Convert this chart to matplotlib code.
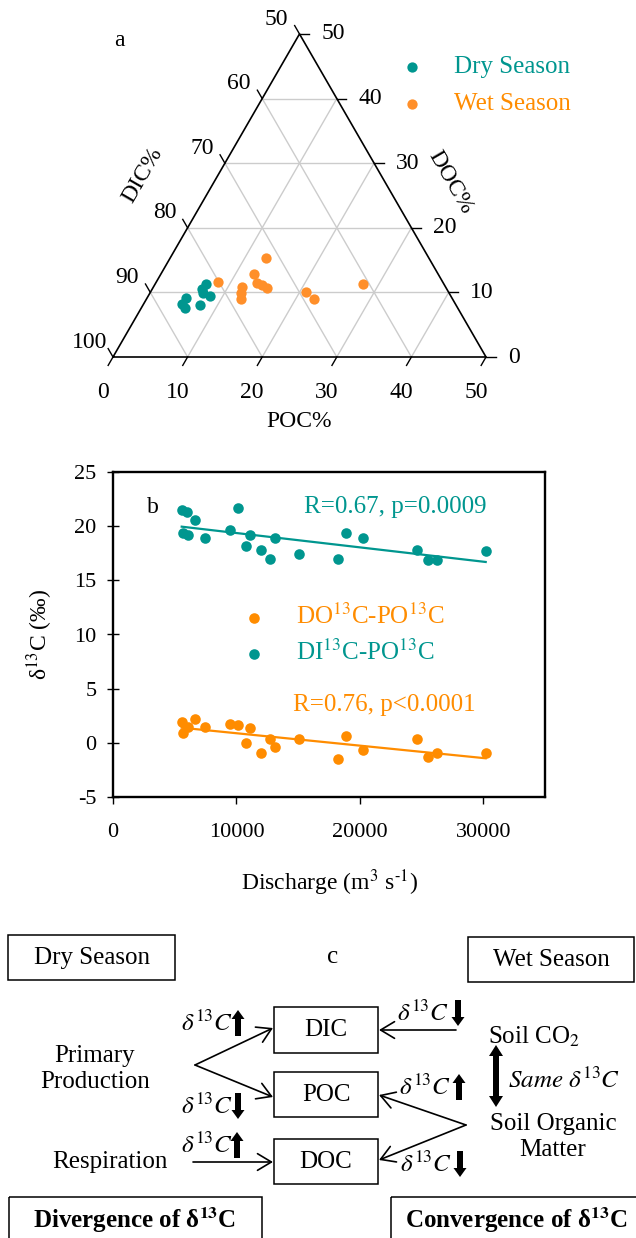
import numpy as np
import matplotlib
matplotlib.use("Agg")
import matplotlib.pyplot as plt
from matplotlib.patches import Rectangle

plt.rcParams['font.family'] = ['Liberation Serif', 'DejaVu Serif']
plt.rcParams['mathtext.fontset'] = 'stix'
plt.rcParams['axes.unicode_minus'] = False

teal = '#00968F'
orange = '#FF8C00'
orange_a = '#FF8F2A'

# --- panel a: carbon pool composition (%)
dry_poc = [6.8, 6.7, 7.1, 8.3, 5.2, 5.2, 5.9, 7.7]
dry_doc = [11.3, 10.5, 9.9, 9.4, 9.1, 8.2, 7.6, 8.0]
wet_poc = [8.3, 12.8, 12.5, 13.6, 14.4, 15.3, 11.9, 12.2, 12.6, 20.9, 22.5, 27.9]
wet_doc = [11.6, 15.4, 12.8, 11.4, 11.1, 10.7, 10.8, 9.9, 9.0, 10.0, 9.0, 11.3]
tern_ticks = [0, 10, 20, 30, 40, 50]

# --- panel b: isotope offsets vs discharge
di_q = [5566, 5647, 6020, 6101, 6644, 7454, 9479, 10103, 10775, 11100, 11991,
        12720, 13125, 15069, 18205, 18877, 20279, 24605, 25545, 26225, 30195]
di_d13c = [21.53, 19.37, 21.31, 19.22, 20.54, 18.94, 19.62, 21.71, 18.14, 19.16, 17.84,
           17.01, 18.94, 17.47, 17.01, 19.37, 18.88, 17.84, 16.85, 16.91, 17.70]
do_q = [5566, 5647, 6101, 6644, 7454, 9479, 10103, 10775, 11100, 11991,
        12720, 13125, 15069, 18205, 18877, 20279, 24605, 25545, 26225, 30195]
do_d13c = [1.94, 0.87, 1.42, 2.18, 1.47, 1.70, 1.63, 0.0, 1.33, -0.92,
           0.31, -0.42, 0.34, -1.53, 0.62, -0.67, 0.37, -1.29, -0.92, -0.98]

W, H = 636, 1238
fig = plt.figure(figsize=(W / 100, H / 100), dpi=100)


def tern(poc, doc):
    poc = np.asarray(poc, float)
    doc = np.asarray(doc, float)
    return poc + doc / 2, doc * np.sqrt(3) / 2


# ================= panel a =================
s = 373 / 50
ax = fig.add_axes([0, 1 - 440 / H, 1, 440 / H])
ax.set_xlim(-113 / s, (W - 113) / s)
ax.set_ylim((357 - 440) / s, 357 / s)
ax.axis('off')

grid_kw = dict(color='#cccccc', lw=1.0, zorder=1)
for v in tern_ticks[1:-1]:
    # constant DOC
    x, y = tern([0, 50 - v], [v, v])
    ax.plot(x, y, **grid_kw)
    # constant POC
    x, y = tern([v, v], [0, 50 - v])
    ax.plot(x, y, **grid_kw)
    # constant DIC
    x, y = tern([v, 0], [0, v])
    ax.plot(x, y, **grid_kw)

x, y = tern([0, 50, 0, 0], [0, 0, 50, 0])
ax.plot(x, y, color='k', lw=1.2, zorder=2)

tl = 1.3
h3 = np.sqrt(3) / 2
for v in tern_ticks:
    # bottom (POC)
    x, y = tern(v, 0)
    ax.plot([x, x - tl * 0.5], [y, y - tl * h3], color='k', lw=1.0)
    ax.text(x - 1.35, y - 4.7, str(v), ha='center', va='center', fontsize=17)
    # right (DOC)
    x, y = tern(50 - v, v)
    ax.plot([x, x + tl], [y, y], color='k', lw=1.0)
    ax.text(x + 2.9, y, str(v), ha='left', va='center', fontsize=17)
    # left (DIC)
    x, y = tern(0, v)
    ax.plot([x, x - tl * 0.5], [y, y + tl * h3], color='k', lw=1.0)
    ax.text(x - 3.1, y + 2.0, str(100 - v), ha='center', va='center', fontsize=17)

ax.text(24.9, -8.7, 'POC%', ha='center', va='center', fontsize=17)
ax.text(4.0, 24.4, 'DIC%', ha='center', va='center', fontsize=17, rotation=60)
ax.text(45.2, 23.4, 'DOC%', ha='center', va='center', fontsize=17, rotation=-60)
ax.text(0.8, 42.4, 'a', ha='center', va='center', fontsize=17)

x, y = tern(dry_poc, dry_doc)
h_dry = ax.scatter(x, y, s=55, color=teal, linewidths=0, zorder=3, label='Dry Season')
x, y = tern(wet_poc, wet_doc)
h_wet = ax.scatter(x, y, s=55, color=orange_a, linewidths=0, zorder=3, label='Wet Season')
leg = ax.legend(handles=[h_dry, h_wet], loc='upper left', frameon=False, fontsize=18,
                bbox_to_anchor=(399 / W, 1 - 56 / H), bbox_transform=fig.transFigure,
                borderpad=0, borderaxespad=0, handlelength=1.0, handletextpad=1.18,
                labelspacing=0.58)
for t, c in zip(leg.get_texts(), [teal, orange]):
    t.set_color(c)

# ================= panel b =================
bx = fig.add_axes([113 / W, 1 - 797 / H, 432 / W, 325 / H])
bx.set_xlim(0, 35000)
bx.set_ylim(-5, 25)
bx.set_xticks([0, 10000, 20000, 30000])
bx.set_yticks([-5, 0, 5, 10, 15, 20, 25])
bx.tick_params(direction='inout', length=8, width=1.0, labelsize=16, pad=8)
bx.tick_params(axis='x', direction='out', length=5, pad=14)
for sp in bx.spines.values():
    sp.set_linewidth(1.7)

h_do = bx.scatter(do_q, do_d13c, s=58, color=orange, linewidths=0, zorder=3,
                  label='DO$^{13}$C-PO$^{13}$C')
h_di = bx.scatter(di_q, di_d13c, s=58, color=teal, linewidths=0, zorder=3,
                  label='DI$^{13}$C-PO$^{13}$C')
for q, d, c in [(di_q, di_d13c, teal), (do_q, do_d13c, orange)]:
    k, b0 = np.polyfit(q, d, 1)
    xx = np.array([min(q), max(q)])
    bx.plot(xx, k * xx + b0, color=c, lw=1.6, zorder=2)

bx.text(15500, 21.75, 'R=0.67, p=0.0009', color=teal, fontsize=18, va='center')
bx.text(14600, 3.47, 'R=0.76, p<0.0001', color=orange, fontsize=18, va='center')
bx.text(3266, 21.75, 'b', fontsize=17, ha='center', va='center')
leg_b = bx.legend(handles=[h_do, h_di], loc='upper left', frameon=False, fontsize=18,
                  bbox_to_anchor=(241 / W, 1 - 604 / H), bbox_transform=fig.transFigure,
                  borderpad=0, borderaxespad=0, handlelength=1.0, handletextpad=1.18,
                  labelspacing=0.42)
for t, c in zip(leg_b.get_texts(), [orange, teal]):
    t.set_color(c)
bx.set_ylabel('δ$^{13}$C (‰)', fontsize=17, labelpad=14)
bx.set_xlabel('Discharge (m$^{3}$ s$^{‐1}$)', fontsize=17, labelpad=18)

# ================= panel c =================
cx = fig.add_axes([0, 0, 1, 308 / H])
cx.set_xlim(0, W)
cx.set_ylim(H, 930)
cx.axis('off')

fs = 18
boxes = [(8, 935, 167, 45), (468, 937, 166, 45),
         (274, 1007, 104, 46), (274, 1072, 104, 45), (274, 1139, 104, 45),
         (9, 1197, 253, 60), (391, 1197, 260, 60)]
for x0, y0, w, h in boxes:
    cx.add_patch(Rectangle((x0, y0), w, h, fill=False, ec='k', lw=1.1))

cx.text(92, 958, 'Dry Season', ha='center', va='center', fontsize=fs)
cx.text(333, 957, 'c', ha='center', va='center', fontsize=fs)
cx.text(551, 960, 'Wet Season', ha='center', va='center', fontsize=fs)
cx.text(326, 1030, 'DIC', ha='center', va='center', fontsize=fs)
cx.text(326, 1095, 'POC', ha='center', va='center', fontsize=fs)
cx.text(326, 1162, 'DOC', ha='center', va='center', fontsize=fs)
cx.text(95, 1069, 'Primary\nProduction', ha='center', va='center', fontsize=fs,
        linespacing=1.25)
cx.text(110, 1162, 'Respiration', ha='center', va='center', fontsize=fs)
cx.text(488, 1037, 'Soil CO$_2$', ha='left', va='center', fontsize=fs)
cx.text(508, 1080, r'$\mathit{Same}\ \delta^{\mathit{13}}\mathit{C}$', ha='left',
        va='center', fontsize=fs)
cx.text(553, 1137, 'Soil Organic\nMatter', ha='center', va='center', fontsize=fs,
        linespacing=1.25)
cx.text(134, 1220, r'Divergence of δ$^{\mathbf{13}}$C', ha='center', va='center',
        fontsize=18, weight='bold')
cx.text(516, 1220, r'Convergence of δ$^{\mathbf{13}}$C', ha='center', va='center',
        fontsize=18, weight='bold')

thin = dict(arrowstyle='->,head_length=0.5,head_width=0.3', lw=1.2, color='k',
            shrinkA=0, shrinkB=0, mutation_scale=20)
for src, dst in [((195, 1065), (273, 1028)), ((195, 1065), (273, 1097)),
                 ((193, 1162), (273, 1162)), ((456, 1030), (379, 1030)),
                 ((466, 1125), (379, 1095)), ((466, 1125), (379, 1160))]:
    cx.annotate('', xy=dst, xytext=src, arrowprops=thin)

d13 = r'$\delta^{\mathit{13}}\mathit{C}$'
for tx, ty, ax_x, up in [(207, 1023, 238, True), (207, 1106, 238, False),
                         (207, 1145, 237, True), (423, 1013, 458, False),
                         (425, 1087, 459, True), (426, 1164, 460, False)]:
    cx.text(tx, ty, d13, ha='center', va='center', fontsize=fs)
    y0, y1 = (ty + 13, ty - 13) if up else (ty - 13, ty + 13)
    cx.arrow(ax_x, y0, 0, y1 - y0, width=6, head_width=13, head_length=9,
             length_includes_head=True, fc='k', ec='k', lw=0)

for y1 in (1045, 1107):
    cx.arrow(496, 1076, 0, y1 - 1076, width=6, head_width=14, head_length=11,
             length_includes_head=True, fc='k', ec='k', lw=0)

fig.savefig('out.png', dpi=100)
